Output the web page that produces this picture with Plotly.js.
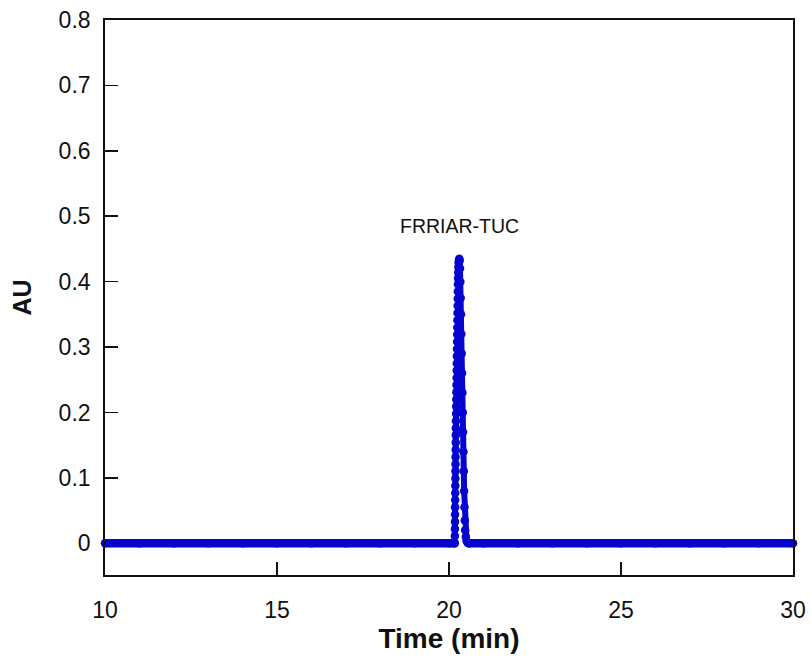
<!DOCTYPE html>
<html>
<head>
<meta charset="utf-8">
<script src="https://cdn.plot.ly/plotly-3.0.1.min.js"></script>
<style>html,body{margin:0;padding:0;background:#fff;}#chart{width:811px;height:657px;}</style>
</head>
<body>
<div id="chart"></div>
<script>
// Baseline before the peak (min, AU)
var baseTimeA = [10, 11, 12, 13, 14, 15, 16, 17, 18, 19, 20, 20.165];
var baseAuA   = [0, 0, 0, 0, 0, 0, 0, 0, 0, 0, 0, 0];

// Peak FRRIAR-TUC (min, AU)
var peakTime = [20.165, 20.17, 20.172, 20.174, 20.176, 20.178, 20.18, 20.182, 20.184, 20.186,
                20.188, 20.19, 20.192, 20.194, 20.196, 20.198, 20.2, 20.203, 20.206, 20.209,
                20.212, 20.215, 20.218, 20.221, 20.224, 20.227, 20.23, 20.233, 20.236, 20.239,
                20.242, 20.245, 20.248, 20.251, 20.254, 20.257, 20.26, 20.264, 20.268, 20.273,
                20.28, 20.29,
                20.30, 20.31, 20.32, 20.33, 20.34, 20.35, 20.36, 20.37, 20.38, 20.39,
                20.40, 20.41, 20.42, 20.43, 20.44, 20.45, 20.46, 20.47, 20.49, 20.51,
                20.54, 20.57];
var peakAu   = [0, 0.011, 0.022, 0.033, 0.044, 0.055, 0.066, 0.077, 0.088, 0.099,
                0.11, 0.121, 0.132, 0.143, 0.154, 0.165, 0.176, 0.187, 0.198, 0.209,
                0.22, 0.231, 0.242, 0.253, 0.264, 0.275, 0.286, 0.297, 0.308, 0.319,
                0.33, 0.341, 0.352, 0.363, 0.374, 0.385, 0.396, 0.405, 0.414, 0.422,
                0.429, 0.433,
                0.435, 0.432, 0.42, 0.40, 0.375, 0.35, 0.32, 0.29, 0.26, 0.23,
                0.20, 0.17, 0.14, 0.11, 0.08, 0.055, 0.035, 0.02, 0.01, 0.004,
                0.001, 0];

// Baseline after the peak (min, AU)
var baseTimeB = [20.57, 21, 22, 23, 24, 25, 26, 27, 28, 29, 30];
var baseAuB   = [0, 0, 0, 0, 0, 0, 0, 0, 0, 0, 0];

var xTicks = [10, 15, 20, 25, 30];
var yTicks = [0, 0.1, 0.2, 0.3, 0.4, 0.5, 0.6, 0.7, 0.8];
var peakLabel = 'FRRIAR-TUC';
var peakLabelPos = [20.3, 0.485];

var blue = '#0505cf';
var font = 'Arial, "Liberation Sans", sans-serif';

var traces = [
  {x: baseTimeA, y: baseAuA, mode: 'lines+markers', line: {color: blue, width: 8.5},
   marker: {color: blue, size: 8.5}, cliponaxis: false, hoverinfo: 'skip'},
  {x: peakTime, y: peakAu, mode: 'lines+markers', line: {color: blue, width: 6},
   marker: {color: blue, size: 8.5}, cliponaxis: false, hoverinfo: 'skip'},
  {x: baseTimeB, y: baseAuB, mode: 'lines+markers', line: {color: blue, width: 8.5},
   marker: {color: blue, size: 8.5}, cliponaxis: false, hoverinfo: 'skip'}
];

var layout = {
  width: 811, height: 657,
  margin: {l: 105, r: 18, t: 20, b: 82},
  paper_bgcolor: '#fff', plot_bgcolor: '#fff',
  showlegend: false,
  font: {family: font, color: '#111'},
  xaxis: {
    range: [10, 30], tickvals: xTicks, ticktext: xTicks.map(String),
    ticks: 'inside', ticklen: 13, tickwidth: 1.5, tickcolor: '#111',
    showline: true, linecolor: '#111', linewidth: 1.8, mirror: true,
    showgrid: false, zeroline: false,
    tickfont: {size: 23, family: font, color: '#111'},
    ticklabelstandoff: 14,
    title: {text: '<b>Time (min)</b>', font: {size: 28, family: font, color: '#111'}, standoff: 6}
  },
  yaxis: {
    range: [-0.0485, 0.8], tickvals: yTicks, ticktext: yTicks.map(String),
    ticks: 'inside', ticklen: 13, tickwidth: 1.5, tickcolor: '#111',
    showline: true, linecolor: '#111', linewidth: 1.8, mirror: true,
    showgrid: false, zeroline: false,
    tickfont: {size: 23, family: font, color: '#111'},
    ticklabelstandoff: 8,
    title: {text: '<b>AU</b>', font: {size: 25, family: font, color: '#111'}, standoff: 20}
  },
  annotations: [{
    x: peakLabelPos[0], y: peakLabelPos[1], xref: 'x', yref: 'y',
    text: peakLabel, showarrow: false,
    font: {size: 19.5, family: font, color: '#111'}
  }]
};

Plotly.newPlot('chart', traces, layout, {displayModeBar: false, staticPlot: true});
</script>
</body>
</html>
